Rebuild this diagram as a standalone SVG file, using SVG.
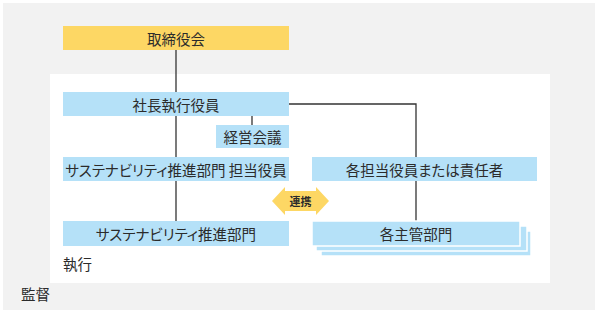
<svg xmlns="http://www.w3.org/2000/svg" width="600" height="313" viewBox="0 0 600 313">
<style>
.t{font-family:"Noto Sans CJK JP","Noto Sans",sans-serif;font-size:14.5px;fill:#2b2b2b;text-anchor:middle;dominant-baseline:central;font-feature-settings:"palt"}
.lbl{font-family:"Noto Sans CJK JP","Noto Sans",sans-serif;font-size:14.5px;fill:#2b2b2b}
.b{fill:#b5e1f8}
.y{fill:#fdd764}
.c{stroke:#333;stroke-width:1.3;fill:none}
</style>
<rect x="0" y="0" width="600" height="313" fill="#ffffff"/>
<rect x="3" y="3" width="592" height="307" fill="#f2f2f2"/>
<rect x="50" y="74" width="500" height="209" fill="#ffffff"/>
<text class="lbl" x="63" y="270">執行</text>
<text class="lbl" x="21" y="300">監督</text>
<g id="connectors">
<path class="c" d="M176,50 V221"/>
<path class="c" d="M289,104 H416 V157"/>
<path class="c" d="M416,181 V221"/>
<path class="c" d="M252,116 V125"/>
</g>
<g id="board"><rect class="y" x="63" y="26" width="226" height="24"/><text class="t" x="176" y="38">取締役会</text></g>
<g id="president"><rect class="b" x="63" y="92" width="226" height="24"/><text class="t" x="176" y="104">社長執行役員</text></g>
<g id="mgmt"><rect class="b" x="216" y="125" width="73" height="23"/><text class="t" x="252.5" y="136.5">経営会議</text></g>
<g id="sus-officer"><rect class="b" x="63" y="157" width="226" height="24"/><text class="t" x="176" y="169">サステナビリティ推進部門 担当役員</text></g>
<g id="sus-dept"><rect class="b" x="63" y="221" width="226" height="25"/><text class="t" x="176" y="233.5">サステナビリティ推進部門</text></g>
<g id="officers"><rect class="b" x="312" y="157" width="225" height="24"/><text class="t" x="424.5" y="169">各担当役員または責任者</text></g>
<g id="depts">
<rect class="b" x="321" y="231" width="210" height="25" stroke="#fff" stroke-width="1.5"/>
<rect class="b" x="316" y="226" width="211" height="25" stroke="#fff" stroke-width="1.5"/>
<rect class="b" x="312" y="221" width="208" height="25" stroke="#fff" stroke-width="1.5"/>
<text class="t" x="416" y="233.5">各主管部門</text>
</g>
<g id="link">
<path class="y" d="M272,201 L285,187 V191 H316 V187 L329,201 L316,215 V211 H285 V215 Z"/>
<text class="t" x="300.5" y="201" style="font-size:11px;font-weight:bold">連携</text>
</g>
</svg>
